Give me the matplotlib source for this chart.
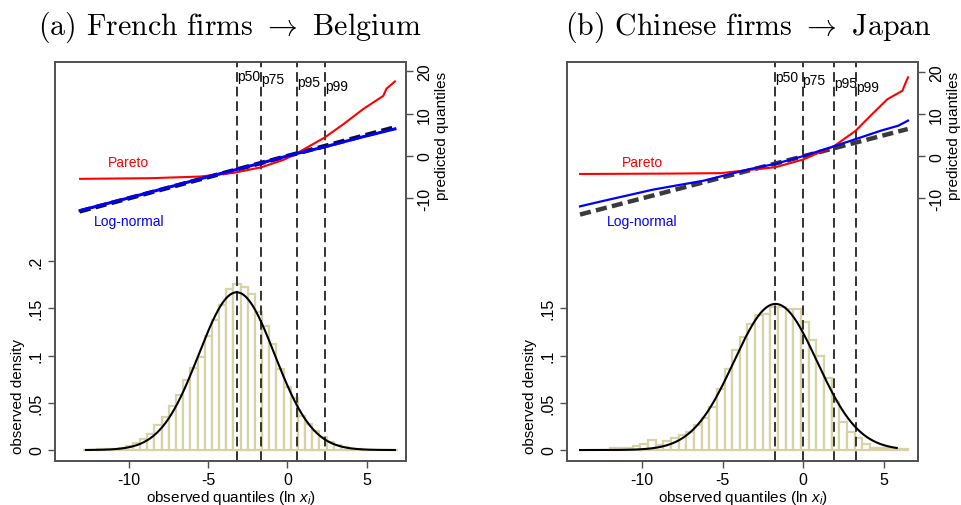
import numpy as np
import matplotlib
matplotlib.use("Agg")
import matplotlib.pyplot as plt

plt.rcParams['font.family'] = ['Liberation Sans', 'DejaVu Sans']
plt.rcParams['mathtext.fontset'] = 'custom'
plt.rcParams['mathtext.rm'] = 'Liberation Sans'
plt.rcParams['mathtext.it'] = 'Liberation Sans:italic'
plt.rcParams['axes.unicode_minus'] = False

# -----------------------------
# DATA
# -----------------------------
titles = [r"(a) French firms $\rightarrow$ Belgium", r"(b) Chinese firms $\rightarrow$ Japan"]

# histograms of observed ln x
left_bin_start = -12.9
left_bin_width = 0.452
left_hist = [0.0005, 0.0005, 0.0008, 0.001, 0.0015, 0.002, 0.004, 0.0074, 0.012, 0.017,
             0.026, 0.035, 0.047, 0.058, 0.074, 0.087, 0.098, 0.121, 0.138, 0.153,
             0.170, 0.176, 0.173, 0.165, 0.146, 0.131, 0.112, 0.086, 0.067, 0.055,
             0.036, 0.028, 0.020, 0.014, 0.009, 0.005, 0.003, 0.0015, 0.001, 0.0005,
             0.0003, 0.0002, 0.0001, 0.0001]

right_bin_start = -12.0
right_bin_width = 0.475
right_hist = [0.0018, 0.0018, 0.0025, 0.0046, 0.0064, 0.0106, 0.0053, 0.0099, 0.0128, 0.016,
              0.0188, 0.026, 0.0337, 0.0454, 0.065, 0.086, 0.1056, 0.12, 0.133, 0.143,
              0.1436, 0.151, 0.1514, 0.149, 0.149, 0.136, 0.116, 0.10, 0.076, 0.051,
              0.030, 0.0195, 0.0124, 0.0064, 0.0025, 0.002, 0.002, 0.0015, 0.001]

# fitted normal density (mean, sd, plotted range)
left_fit = (-3.2, 2.39, -12.7, 6.77)
right_fit = (-1.71, 2.58, -13.85, 5.82)

# QQ lines: observed quantile vs predicted quantile
left_obs_pareto = [-13.07, -8.66, -5.51, -3.41, -1.65, -0.26, 0.62, 2.36, 3.52, 4.78, 6.04, 6.24, 6.77]
left_pred_pareto = [-5.4, -5.25, -4.86, -4.0, -2.67, -0.94, 0.7, 4.4, 7.5, 11.1, 14.2, 15.9, 17.6]
left_obs_lognorm = [-13.07, -10, -7, -5, -3, -1, 0.6, 2.4, 4.5, 6.77]
left_pred_lognorm = [-12.9, -9.9, -6.9, -4.9, -3.0, -1.0, 0.6, 2.2, 4.3, 6.4]
left_diag = [-13.1, 6.7]

right_obs_pareto = [-13.85, -8.0, -5.1, -3.27, -1.73, -0.03, 1.92, 3.27, 4.2, 5.24, 6.17, 6.38, 6.52]
right_pred_pareto = [-4.2, -4.1, -4.0, -3.2, -2.6, -0.8, 2.4, 6.1, 9.7, 13.6, 15.6, 17.6, 18.8]
right_obs_lognorm = [-13.85, -12.4, -9.29, -6.18, -3.27, -1.73, -0.03, 1.92, 3.27, 4.83, 5.92, 6.52]
right_pred_lognorm = [-11.9, -10.6, -7.9, -5.8, -3.0, -1.8, 0.0, 2.4, 4.1, 6.1, 7.3, 8.5]
right_diag = [-13.85, 6.5]

# percentiles
pct_labels = ["p50", "p75", "p95", "p99"]
left_pct = [-3.16, -1.65, 0.62, 2.36]
right_pct = [-1.73, -0.03, 1.92, 3.27]

xticks = [-10, -5, 0, 5]
left_dens_ticks = [0, 0.05, 0.1, 0.15, 0.2]
left_dens_labels = ["0", ".05", ".1", ".15", ".2"]
right_dens_ticks = [0, 0.05, 0.1, 0.15]
right_dens_labels = ["0", ".05", ".1", ".15"]
pred_ticks = [-10, 0, 10, 20]


# -----------------------------
# PLOT
# -----------------------------
BAR = "#d8d3a6"
FRAME = "#505050"
FS = 11


def draw_panel(rect, xlim, dens_lim, pred_lim, bin_start, bin_width, hist, fit,
               obs_p, pred_p, obs_l, pred_l, diag, pct, dticks, dlabels, diag_color, blue_lw):
    ax = fig.add_axes(rect)
    edges = bin_start + bin_width * np.arange(len(hist))
    ax.bar(edges, hist, width=bin_width, align="edge", facecolor="white",
           edgecolor=BAR, linewidth=1.6, zorder=1)
    mu, sd, x0, x1 = fit
    xs = np.linspace(x0, x1, 300)
    ax.plot(xs, np.exp(-0.5 * ((xs - mu) / sd) ** 2) / (sd * np.sqrt(2 * np.pi)),
            color="black", lw=1.5, zorder=3)
    for v in pct:
        ax.axvline(v, color="#333333", lw=1.4, linestyle=(0, (5, 2.5)), zorder=2)
    ax.set_xlim(*xlim)
    ax.set_ylim(*dens_lim)
    ax.set_xticks(xticks)
    ax.set_xticklabels([str(t) for t in xticks])
    ax.set_yticks(dticks)
    ax.set_yticklabels(dlabels, rotation=90, va="center")
    ax.tick_params(axis="both", labelsize=FS + 0.5, length=5, width=1.0, color=FRAME, direction="out")
    ax.tick_params(axis="x", pad=3)
    ax.tick_params(axis="y", pad=3)
    ax.text(0.5, -0.09, r"observed quantiles (ln $x_i$)", transform=ax.transAxes,
            ha="center", va="center", fontsize=FS)
    ax.text(-0.105, 0.163, "observed density", transform=ax.transAxes, rotation=90,
            ha="center", va="center", fontsize=FS)

    ax2 = ax.twinx()
    ax2.plot(diag, diag, color=diag_color, lw=3.2, linestyle=(0, (2.5, 1.2)), zorder=2)
    ax2.plot(obs_p, pred_p, color="#ff0000", lw=1.5, zorder=3)
    ax2.plot(obs_l, pred_l, color="#0000ff", lw=blue_lw, zorder=4)
    ax2.set_ylim(*pred_lim)
    ax2.set_yticks(pred_ticks)
    ax2.set_yticklabels([str(t) for t in pred_ticks], rotation=90, va="center")
    ax2.tick_params(axis="y", labelsize=FS + 0.5, length=5, width=1.0, color=FRAME, pad=3)
    ax2.text(1.103, 0.817, "predicted quantiles", transform=ax2.transAxes, rotation=90,
             ha="center", va="center", fontsize=FS)
    ax2.text(-10, -1.4, "Pareto", color="#ff0000", ha="center", va="center", fontsize=10)
    ax2.text(-10, -15.3, "Log-normal", color="#0000ff", ha="center", va="center", fontsize=10)
    label_y = [18.9, 18.2, 17.5, 16.5]
    for v, lab, yy in zip(pct, pct_labels, label_y):
        ax2.text(v, yy, lab, ha="left", va="center", fontsize=10)
    for a in (ax, ax2):
        for s in a.spines.values():
            s.set_color(FRAME)
            s.set_linewidth(1.2)
    return ax


fig = plt.figure(figsize=(9.61, 5.06), dpi=100)

draw_panel([55 / 961, 44 / 506, 351 / 961, 399 / 506], (-14.65, 7.47), (-0.0116, 0.4106),
           (-72.05, 22.2), left_bin_start, left_bin_width, left_hist, left_fit,
           left_obs_pareto, left_pred_pareto, left_obs_lognorm, left_pred_lognorm,
           left_diag, left_pct, left_dens_ticks, left_dens_labels, "#111111", 2.2)
draw_panel([567 / 961, 44 / 506, 351 / 961, 399 / 506], (-14.66, 7.14), (-0.0116, 0.4106),
           (-72.5, 22.45), right_bin_start, right_bin_width, right_hist, right_fit,
           right_obs_pareto, right_pred_pareto, right_obs_lognorm, right_pred_lognorm,
           right_diag, right_pct, right_dens_ticks, right_dens_labels, "#3a3a3a", 1.6)

for xc, t in zip([230, 748], titles):
    fig.text(xc / 961, 1 - 27 / 506, t, ha="center", va="center",
             fontsize=21.5, family="cmr10", math_fontfamily="cm")

fig.savefig("out.png", dpi=100)
